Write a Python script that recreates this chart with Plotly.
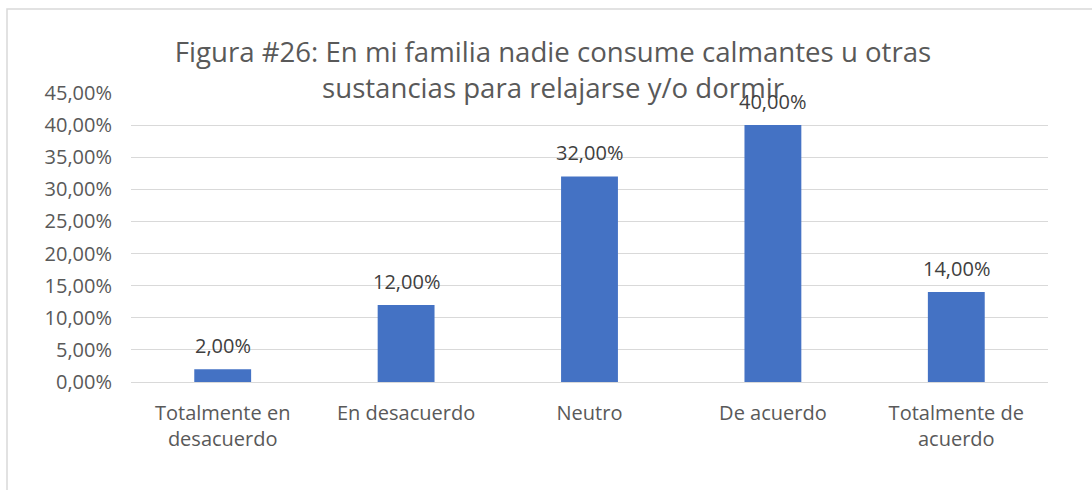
import plotly.graph_objects as go

# Survey answers and share of respondents (%)
categories = [
    "Totalmente en<br>desacuerdo",
    "En desacuerdo",
    "Neutro",
    "De acuerdo",
    "Totalmente de<br>acuerdo",
]
values = [2.0, 12.0, 32.0, 40.0, 14.0]
tick_values = [0, 5, 10, 15, 20, 25, 30, 35, 40, 45]
tick_labels = ["0,00%", "5,00%", "10,00%", "15,00%", "20,00%",
               "25,00%", "30,00%", "35,00%", "40,00%", "45,00%"]

W, H = 1092, 490
ML, MR, MT, MB = 131, 44, 93, 108
PW, PH = W - ML - MR, H - MT - MB

FONT = "Open Sans, Noto Sans, sans-serif"
BAR = "#4472C4"
GRID = "#d9d9d9"
TXT = "#595959"


def fmt(v):
    return f"{v:.2f}".replace(".", ",") + "%"


fig = go.Figure(
    go.Bar(
        x=categories,
        y=values,
        marker=dict(color=BAR, line=dict(width=0)),
        hoverinfo="skip",
    )
)

# value labels above each bar
for c, v in zip(categories, values):
    fig.add_annotation(
        x=c, y=v, text=fmt(v), showarrow=False,
        yanchor="bottom", yshift=8,
        font=dict(family=FONT, size=20, color="#404040"),
    )

# chart frame
def px_x(p):
    return (p - ML) / PW


def px_y(p):
    return (H - MB - p) / PH


fig.add_shape(
    type="rect", xref="paper", yref="paper",
    x0=px_x(7), x1=px_x(1110), y0=px_y(9), y1=px_y(520),
    line=dict(color=GRID, width=1.5), fillcolor="rgba(0,0,0,0)",
    layer="below",
)

fig.update_layout(
    width=W, height=H,
    margin=dict(l=ML, r=MR, t=MT, b=MB, autoexpand=False),
    paper_bgcolor="white", plot_bgcolor="white",
    bargap=0.69,
    showlegend=False,
    title=dict(
        text="Figura #26: En mi familia nadie consume calmantes u otras<br>sustancias para relajarse y/o dormir",
        x=553 / W, xanchor="center", xref="container",
        y=1 - 62 / H, yanchor="top", yref="container",
        font=dict(family=FONT, size=27.6, color=TXT),
    ),
    font=dict(family=FONT, size=20, color=TXT),
    xaxis=dict(
        showgrid=False, showline=False, zeroline=False,
        ticks="", ticklabelstandoff=17,
        tickfont=dict(family=FONT, size=20, color=TXT),
    ),
    yaxis=dict(
        range=[0, 45], tickvals=tick_values, ticktext=tick_labels,
        showgrid=True, gridcolor=GRID, gridwidth=1.3,
        zeroline=True, zerolinecolor=GRID, zerolinewidth=1.3,
        showline=False, ticks="", ticklabelstandoff=18,
        tickfont=dict(family=FONT, size=20, color=TXT),
    ),
)

fig.write_html("out.html")
